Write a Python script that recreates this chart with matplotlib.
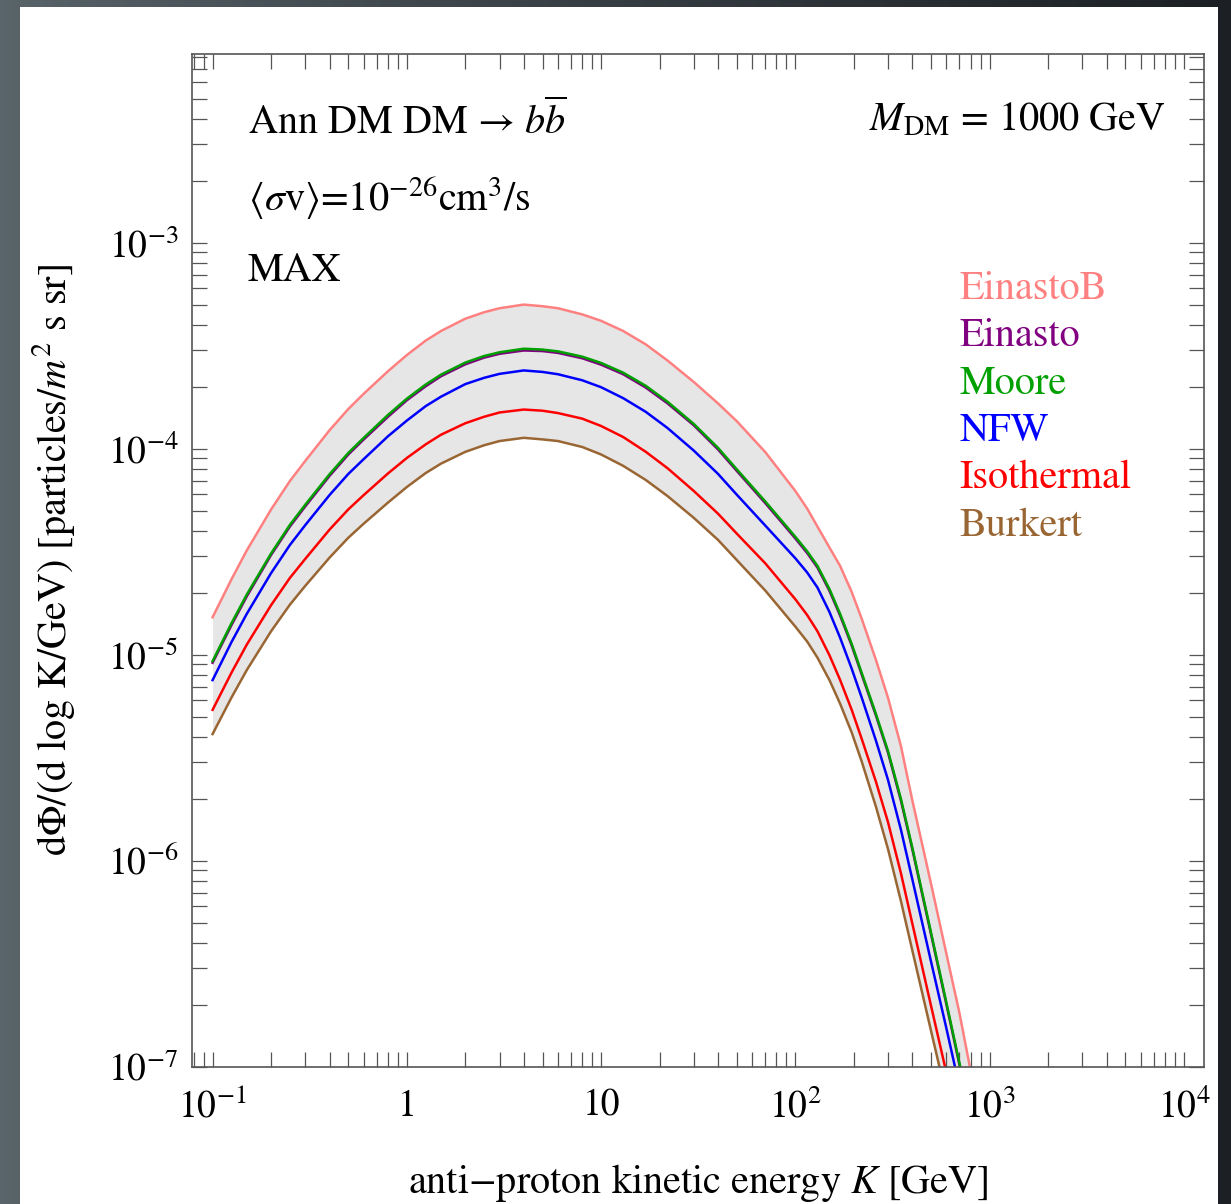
"""Anti-proton flux from DM annihilation for several halo profiles (MAX propagation)."""
import numpy as np
import matplotlib

matplotlib.use("Agg")
import matplotlib.pyplot as plt
from matplotlib.patches import Rectangle
from matplotlib.ticker import LogLocator, FixedLocator, FixedFormatter, NullFormatter

plt.rcParams["font.family"] = ["STIXGeneral", "DejaVu Sans"]
plt.rcParams["mathtext.fontset"] = "stix"

# kinetic energy grid [GeV]
K = [0.1, 0.125, 0.15, 0.2, 0.25, 0.3, 0.4, 0.5, 0.6, 0.8, 1, 1.25, 1.5, 2, 2.5, 3,
     4, 5, 6, 8, 10, 13, 17, 22, 30, 40, 50, 70, 100, 115, 130, 150, 170, 195, 220,
     260, 300, 350, 400, 500, 600, 700, 800, 900]

# dPhi/dlogK [particles / m^2 s sr]
einastoB = [1.52e-5, 2.32e-5, 3.21e-5, 5.07e-5, 6.97e-5, 8.73e-5, 1.23e-4, 1.56e-4,
            1.85e-4, 2.38e-4, 2.85e-4, 3.35e-4, 3.73e-4, 4.28e-4, 4.60e-4, 4.81e-4,
            5.01e-4, 4.92e-4, 4.81e-4, 4.49e-4, 4.18e-4, 3.73e-4, 3.21e-4, 2.68e-4,
            2.11e-4, 1.66e-4, 1.36e-4, 9.64e-5, 6.24e-5, 5.13e-5, 4.19e-5, 3.31e-5,
            2.70e-5, 2.02e-5, 1.49e-5, 9.44e-6, 6.19e-6, 3.59e-6, 1.97e-6, 7.71e-7,
            3.52e-7, 1.82e-7, 9.5e-8, 5.75e-8]
einasto = [9.14e-6, 1.39e-5, 1.92e-5, 3.05e-5, 4.19e-5, 5.25e-5, 7.38e-5, 9.38e-5,
           1.11e-4, 1.43e-4, 1.72e-4, 2.01e-4, 2.25e-4, 2.57e-4, 2.77e-4, 2.89e-4,
           3.00e-4, 2.98e-4, 2.92e-4, 2.75e-4, 2.56e-4, 2.30e-4, 1.98e-4, 1.66e-4,
           1.30e-4, 9.92e-5, 7.80e-5, 5.45e-5, 3.67e-5, 3.12e-5, 2.65e-5, 2.04e-5,
           1.55e-5, 1.11e-5, 7.98e-6, 5.07e-6, 3.35e-6, 1.95e-6, 1.14e-6, 4.38e-7,
           2.00e-7, 1.02e-7, 5.72e-8, 3.43e-8]
moore = [9.31e-6, 1.42e-5, 1.96e-5, 3.10e-5, 4.27e-5, 5.35e-5, 7.52e-5, 9.55e-5,
         1.13e-4, 1.46e-4, 1.75e-4, 2.05e-4, 2.29e-4, 2.62e-4, 2.82e-4, 2.94e-4,
         3.06e-4, 3.03e-4, 2.97e-4, 2.80e-4, 2.61e-4, 2.34e-4, 2.02e-4, 1.69e-4,
         1.32e-4, 1.01e-4, 7.94e-5, 5.55e-5, 3.74e-5, 3.18e-5, 2.70e-5, 2.08e-5,
         1.58e-5, 1.13e-5, 8.13e-6, 5.16e-6, 3.41e-6, 1.99e-6, 1.16e-6, 4.46e-7,
         2.04e-7, 1.04e-7, 5.82e-8, 3.49e-8]
nfw = [7.53e-6, 1.15e-5, 1.58e-5, 2.49e-5, 3.41e-5, 4.26e-5, 5.96e-5, 7.55e-5,
       8.91e-5, 1.15e-4, 1.37e-4, 1.61e-4, 1.79e-4, 2.06e-4, 2.21e-4, 2.31e-4,
       2.40e-4, 2.36e-4, 2.30e-4, 2.15e-4, 1.99e-4, 1.76e-4, 1.51e-4, 1.26e-4,
       9.80e-5, 7.55e-5, 5.98e-5, 4.24e-5, 2.94e-5, 2.51e-5, 2.12e-5, 1.61e-5,
       1.21e-5, 8.57e-6, 6.17e-6, 3.83e-6, 2.47e-6, 1.41e-6, 8.15e-7, 3.23e-7,
       1.53e-7, 7.98e-8, 4.52e-8, 2.71e-8]
isothermal = [5.40e-6, 8.17e-6, 1.12e-5, 1.74e-5, 2.36e-5, 2.92e-5, 4.05e-5, 5.08e-5,
              5.96e-5, 7.59e-5, 9.02e-5, 1.05e-4, 1.17e-4, 1.33e-4, 1.43e-4, 1.50e-4,
              1.55e-4, 1.53e-4, 1.49e-4, 1.40e-4, 1.29e-4, 1.14e-4, 9.66e-5, 8.04e-5,
              6.24e-5, 4.84e-5, 3.87e-5, 2.78e-5, 1.86e-5, 1.56e-5, 1.30e-5, 9.93e-6,
              7.55e-6, 5.41e-6, 3.89e-6, 2.42e-6, 1.54e-6, 8.67e-7, 4.97e-7, 1.97e-7,
              9.31e-8, 4.86e-8, 2.79e-8, 1.67e-8]
burkert = [4.12e-6, 6.19e-6, 8.43e-6, 1.30e-5, 1.75e-5, 2.16e-5, 2.96e-5, 3.70e-5,
           4.33e-5, 5.48e-5, 6.52e-5, 7.62e-5, 8.47e-5, 9.66e-5, 1.04e-4, 1.09e-4,
           1.13e-4, 1.11e-4, 1.09e-4, 1.02e-4, 9.38e-5, 8.26e-5, 7.05e-5, 5.89e-5,
           4.62e-5, 3.61e-5, 2.88e-5, 2.05e-5, 1.37e-5, 1.16e-5, 9.68e-6, 7.52e-6,
           5.79e-6, 4.20e-6, 3.02e-6, 1.83e-6, 1.14e-6, 6.35e-7, 3.68e-7, 1.49e-7,
           7.14e-8, 3.73e-8, 2.11e-8, 1.27e-8]

profiles = ["EinastoB", "Einasto", "Moore", "NFW", "Isothermal", "Burkert"]
colors = ["#ff8080", "#800080", "#00a000", "#0000ff", "#ff0000", "#996633"]
series = [einastoB, einasto, moore, nfw, isothermal, burkert]

xtick_vals = [1e-1, 1, 10, 1e2, 1e3, 1e4]
xtick_text = ["$10^{-1}$", "1", "10", "$10^{2}$", "$10^{3}$", "$10^{4}$"]
ytick_vals = [1e-7, 1e-6, 1e-5, 1e-4, 1e-3]
ytick_text = ["$10^{-7}$", "$10^{-6}$", "$10^{-5}$", "$10^{-4}$", "$10^{-3}$"]

W, H = 1231, 1204
fig = plt.figure(figsize=(W / 100, H / 100), dpi=100)

# dark slate backdrop with a white page on top
bg = fig.add_axes([0, 0, 1, 1], zorder=-10)
c0 = np.array([0x5a, 0x65, 0x6b]) / 255
c1 = np.array([0x1c, 0x20, 0x24]) / 255
t = np.linspace(0, 1, 256)[None, :, None]
grad = c0 + (c1 - c0) * t ** 0.8
bg.imshow(grad, aspect="auto", extent=[0, 1, 0, 1])
bg.set_axis_off()
fig.patches.append(Rectangle((20 / W, 0), (1218 - 20) / W, (H - 7) / H,
                             transform=fig.transFigure, facecolor="white",
                             edgecolor="none", zorder=-5))

ax = fig.add_axes([192 / W, (H - 1066.7) / H, (1204 - 192) / W, (1066.7 - 54.3) / H])
ax.set_facecolor("none")
ax.set_xscale("log")
ax.set_yscale("log")
ax.set_xlim(10 ** -1.106, 10 ** 4.104)
ax.set_ylim(1e-7, 10 ** -2.085)

ax.fill_between(K, burkert, einastoB, color="#e6e6e6", lw=0, zorder=1)
for name, col, vals in zip(profiles, colors, series):
    ax.plot(K, vals, color=col, lw=1.8, zorder=2, solid_joinstyle="round")

ax.xaxis.set_major_locator(FixedLocator(xtick_vals))
ax.xaxis.set_major_formatter(FixedFormatter(xtick_text))
ax.xaxis.set_minor_locator(LogLocator(base=10, subs=np.arange(2, 10), numticks=20))
ax.xaxis.set_minor_formatter(NullFormatter())
ax.yaxis.set_major_locator(FixedLocator(ytick_vals))
ax.yaxis.set_major_formatter(FixedFormatter(ytick_text))
ax.yaxis.set_minor_locator(LogLocator(base=10, subs=np.arange(2, 10), numticks=20))
ax.yaxis.set_minor_formatter(NullFormatter())

ax.tick_params(which="both", direction="in", length=10.5, width=0.9, color="#555555",
               top=True, right=True, labelsize=27)
ax.tick_params(axis="x", which="major", pad=16)
ax.tick_params(axis="y", which="major", pad=10)
for sp in ax.spines.values():
    sp.set_color("#555555")
    sp.set_linewidth(1.2)

ax.set_xlabel(r"anti$-$proton kinetic energy $K$ [GeV]", fontsize=29, labelpad=26)
ax.set_ylabel(r"d$\Phi$/(d log K/GeV) [particles/$m^{2}$ s sr]", fontsize=29, labelpad=22)

tr = ax.transAxes
ax.text(0.055, 0.934, "Ann DM DM \u2192 " + r"$b\overline{b}$", transform=tr,
        fontsize=29, va="center", ha="left")
ax.text(0.055, 0.858, r"$\langle\sigma$v$\rangle$=10$^{-26}$cm$^{3}$/s", transform=tr,
        fontsize=29, va="center", ha="left")
ax.text(0.055, 0.786, "MAX", transform=tr, fontsize=29, va="center", ha="left")
ax.text(0.962, 0.934, r"$M_{\rm DM}$ = 1000 GeV", transform=tr,
        fontsize=29, va="center", ha="right")

for i, (name, col) in enumerate(zip(profiles, colors)):
    ax.text(0.758, 0.768 - i * 0.0468, name, color=col, transform=tr,
            fontsize=29, va="center", ha="left")

fig.savefig("out.png", dpi=100)
